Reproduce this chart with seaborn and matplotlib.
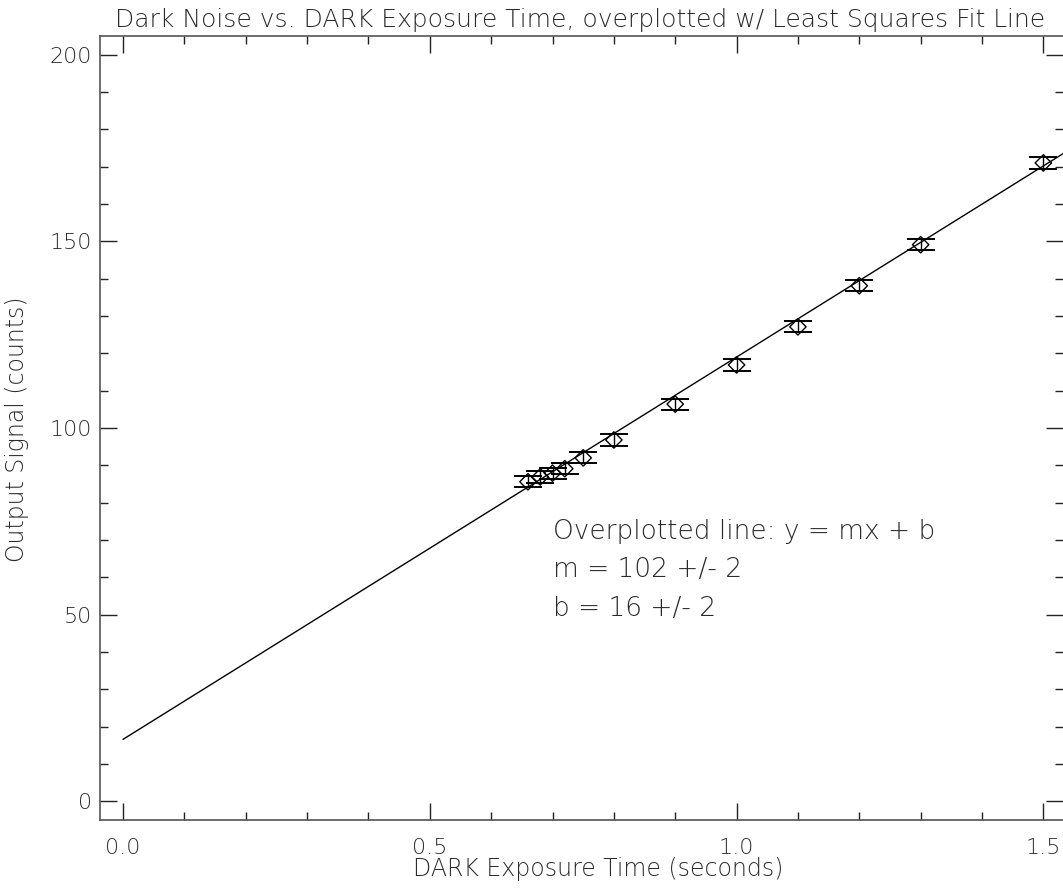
import numpy as np
import pandas as pd
import matplotlib
matplotlib.use("Agg")
import matplotlib.pyplot as plt
import seaborn as sns

# ---- data ----
exposure_time = [0.66, 0.68, 0.70, 0.72, 0.75, 0.80, 0.90, 1.00, 1.10, 1.20, 1.30, 1.50]
output_signal = [85.6, 86.9, 87.9, 89.1, 92.0, 96.8, 106.4, 116.9, 127.1, 138.1, 149.1, 171.0]
signal_error = [1.5, 1.5, 1.5, 1.5, 1.5, 1.5, 1.5, 1.5, 1.5, 1.5, 1.5, 1.5]
fit_slope = 102.4
fit_intercept = 16.6
fit_x_range = [0.0, 1.6]
annotation_lines = ["Overplotted line: y = mx + b", "m = 102 +/- 2", "b = 16 +/- 2"]
x_ticks = [0.0, 0.5, 1.0, 1.5]
x_tick_labels = ["0.0", "0.5", "1.0", "1.5"]
y_ticks = [0, 50, 100, 150, 200]
y_tick_labels = ["0", "50", "100", "150", "200"]

df = pd.DataFrame({"t": exposure_time, "s": output_signal, "e": signal_error})
fit_df = pd.DataFrame({"t": fit_x_range,
                       "s": [fit_slope * v + fit_intercept for v in fit_x_range]})

sns.set_theme(style="white")
plt.rcParams["font.family"] = ["DejaVu Sans"]
plt.rcParams["font.weight"] = "light"
TXT = "#2a2a2a"

W, H = 1063, 888
fig = plt.figure(figsize=(W / 100, H / 100), dpi=100)
left, right, top, bottom = 100, 1063, 36, 820
ax = fig.add_axes([left / W, 1 - bottom / H, (right - left) / W, (bottom - top) / H])

sns.lineplot(data=fit_df, x="t", y="s", ax=ax, color="black", lw=1.0)
ax.errorbar(df["t"], df["s"], yerr=df["e"], fmt="none", ecolor="black",
            elinewidth=1.0, capsize=10, capthick=1.4)
sns.scatterplot(data=df, x="t", y="s", ax=ax, marker="D", s=70,
                facecolor="none", edgecolor="black", linewidth=1.0, zorder=5)

ax.set_xlim(-0.0375, 1.532)
ax.set_ylim(-5.0, 205.0)

ax.set_xticks(x_ticks)
ax.set_xticklabels(x_tick_labels)
ax.set_yticks(y_ticks)
ax.set_yticklabels(y_tick_labels)
ax.set_xticks(np.arange(0, 1.55, 0.1), minor=True)
ax.set_yticks(np.arange(0, 205, 10), minor=True)

ax.tick_params(which="both", direction="in", top=True, right=True,
               bottom=True, left=True, color="#222222", width=1.0,
               labelsize=16, labelcolor=TXT)
ax.tick_params(axis="y", which="major", pad=6)
ax.tick_params(axis="x", which="major", pad=13)
ax.tick_params(which="major", length=12)
ax.tick_params(which="minor", length=6)
for sp in ["left", "bottom", "top"]:
    ax.spines[sp].set_color("#555555")
    ax.spines[sp].set_linewidth(1.2)
ax.spines["right"].set_visible(False)

ax.set_xlabel("")
ax.set_ylabel("")
fig.text(598 / W, 1 - 876 / H, "DARK Exposure Time (seconds)",
         ha="center", va="baseline", fontsize=17, color=TXT)
fig.text(17 / W, 1 - 429 / H, "Output Signal (counts)", rotation=90,
         ha="center", va="center", fontsize=17, color=TXT)
fig.text(580 / W, 1 - 27 / H,
         "Dark Noise vs. DARK Exposure Time, overplotted w/ Least Squares Fit Line",
         ha="center", va="baseline", fontsize=18, color=TXT)

for i, txt in enumerate(annotation_lines):
    ax.text(0.70, 72.4 - 10.4 * i, txt, fontsize=19, color=TXT,
            ha="left", va="center")

fig.savefig("out.png", dpi=100)
